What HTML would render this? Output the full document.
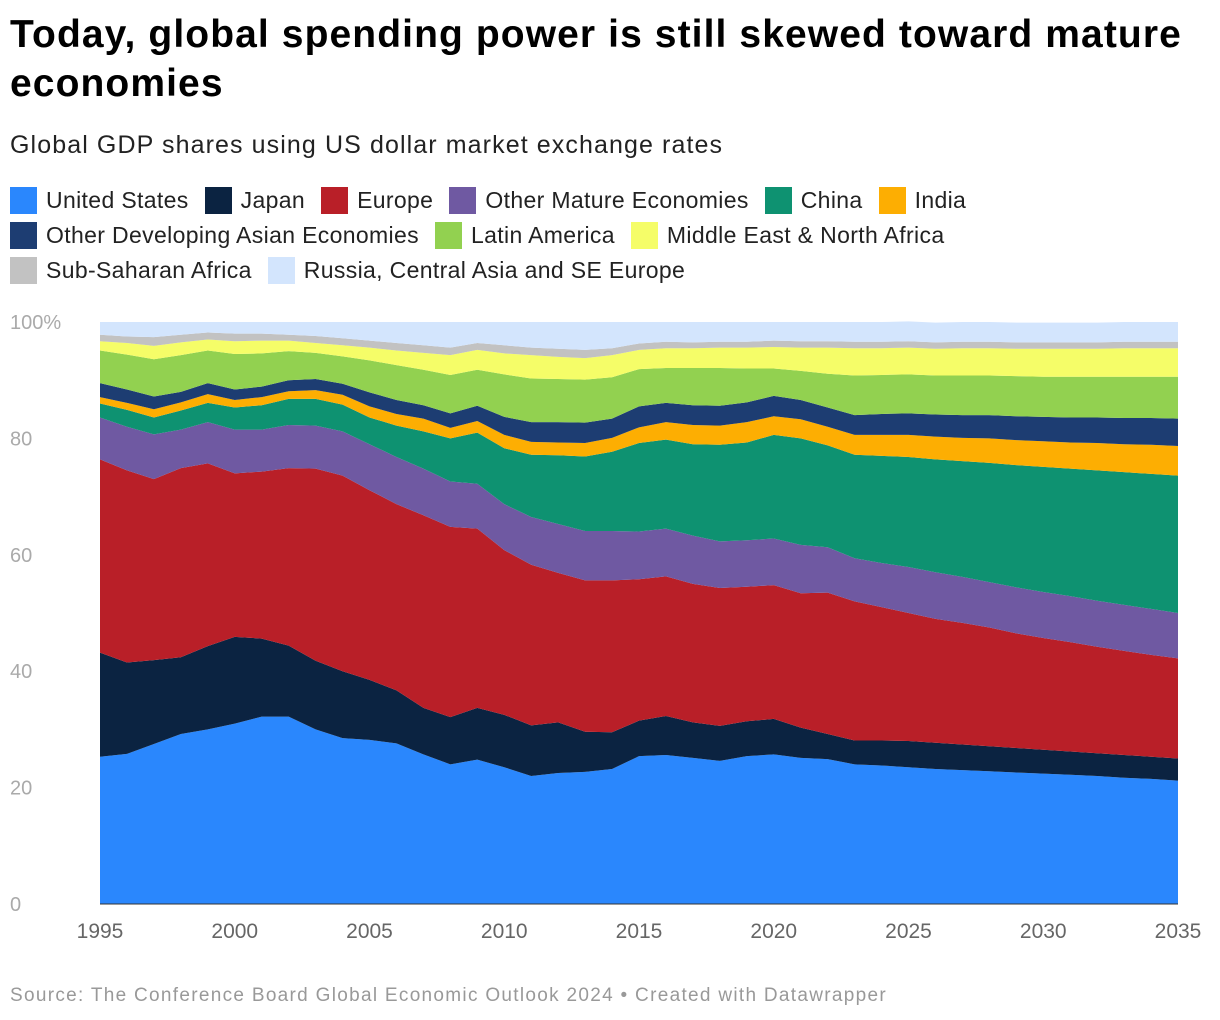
<!DOCTYPE html>
<html><head><meta charset="utf-8">
<style>
body{margin:0;background:#fff;font-family:"Liberation Sans",Arial,sans-serif;width:1220px;height:1020px;overflow:hidden;position:relative}
h1{position:absolute;left:10px;top:10px;margin:0;font-size:39px;line-height:49px;font-weight:bold;color:#000;width:1205px;letter-spacing:1.1px}
.sub{position:absolute;left:10px;top:131px;font-size:25px;color:#222;letter-spacing:1.1px}
.legend{position:absolute;left:10px;top:183px;width:1200px}
.row{height:35px;display:flex;align-items:center}
.li{display:flex;align-items:center;margin-right:16px;font-size:23px;color:#222;letter-spacing:0.35px}
.sw{width:27px;height:27px;margin-right:9px}
.src{position:absolute;left:10px;top:985px;font-size:19px;color:#999;letter-spacing:1.3px}
</style></head><body>
<h1>Today, global spending power is still skewed toward mature economies</h1>
<div class="sub">Global GDP shares using US dollar market exchange rates</div>
<div class="legend" id="legend"></div>
<svg id="chart" width="1220" height="1020" style="position:absolute;left:0;top:0"></svg>
<div class="src">Source: The Conference Board Global Economic Outlook 2024 • Created with Datawrapper</div>
<script>
const years=[];for(let y=1995;y<=2035;y++)years.push(y);
const seriesNames=["United States","Japan","Europe","Other Mature Economies","China","India","Other Developing Asian Economies","Latin America","Middle East & North Africa","Sub-Saharan Africa","Russia, Central Asia and SE Europe"];
const seriesColors=["#2a87fd","#0b2341","#b91f28","#6f59a2","#0e9271","#fdae02","#1d3d72","#92d150","#f5fd68","#c2c2c2","#d3e5fd"];
const usShare=[25.3,25.8,27.5,29.2,30.0,31.0,32.2,32.2,30.0,28.5,28.2,27.6,25.7,24.0,24.8,23.5,22.0,22.5,22.7,23.2,25.4,25.6,25.1,24.6,25.4,25.7,25.1,24.9,24.0,23.8,23.5,23.2,23.0,22.8,22.6,22.4,22.2,22.0,21.7,21.5,21.2];
const japanShare=[17.9,15.7,14.4,13.2,14.3,14.9,13.4,12.2,11.8,11.5,10.3,9.1,8.0,8.1,8.9,9.0,8.7,8.7,6.9,6.3,6.1,6.7,6.1,6.0,6.0,6.1,5.2,4.3,4.1,4.3,4.5,4.5,4.4,4.3,4.2,4.1,4.0,3.9,3.9,3.8,3.8];
const europeShare=[33.2,33.0,31.1,32.5,31.4,28.1,28.7,30.5,33.0,33.6,32.6,32.0,33.1,32.7,30.8,28.3,27.6,25.7,26.0,26.1,24.3,24.0,23.8,23.7,23.1,23.0,23.1,24.3,23.9,22.9,22.0,21.3,20.9,20.4,19.7,19.2,18.8,18.3,17.9,17.5,17.2];
const otherMatureShare=[7.2,7.5,7.7,6.6,7.1,7.5,7.2,7.4,7.4,7.6,7.9,8.1,8.0,7.8,7.7,7.9,8.2,8.4,8.5,8.5,8.2,8.2,8.3,8.0,8.0,8.0,8.3,7.8,7.4,7.6,7.9,8.0,7.9,7.8,7.9,7.9,7.9,7.9,7.9,7.9,7.8];
const chinaShare=[2.4,2.9,2.9,3.3,3.3,3.8,4.2,4.5,4.6,4.6,4.6,5.4,6.4,7.4,8.8,9.6,10.7,11.8,12.8,13.6,15.2,15.3,15.7,16.6,16.8,17.8,18.3,17.5,17.8,18.4,18.9,19.4,19.9,20.5,21.0,21.5,21.9,22.4,22.8,23.2,23.6];
const indiaShare=[1.1,1.2,1.4,1.4,1.5,1.3,1.4,1.3,1.5,1.7,1.9,2.0,2.2,1.8,2.0,2.3,2.2,2.2,2.3,2.4,2.7,3.0,3.3,3.3,3.5,3.2,3.3,3.2,3.4,3.6,3.8,3.9,4.0,4.2,4.3,4.4,4.5,4.7,4.8,5.0,5.1];
const otherAsiaShare=[2.4,2.3,2.2,1.8,1.9,1.8,1.8,1.9,1.9,1.9,2.4,2.4,2.3,2.5,2.6,3.1,3.4,3.5,3.5,3.3,3.6,3.3,3.4,3.4,3.4,3.5,3.3,3.3,3.4,3.6,3.7,3.8,3.9,4.0,4.1,4.2,4.3,4.4,4.5,4.6,4.7];
const latamShare=[5.6,6.0,6.4,6.3,5.6,6.1,5.7,5.0,4.5,4.7,5.5,6.0,6.1,6.6,6.2,7.3,7.5,7.4,7.4,7.1,6.4,6.0,6.4,6.5,5.8,4.7,5.0,5.8,6.8,6.7,6.7,6.7,6.8,6.8,6.9,6.9,7.0,7.0,7.1,7.1,7.2];
const menaShare=[1.6,2.0,2.3,2.2,1.9,2.2,2.2,1.8,1.7,1.9,2.2,2.5,2.9,3.4,3.4,3.6,4.0,3.8,3.7,3.8,3.3,3.4,3.4,3.5,3.6,3.7,4.0,4.5,4.7,4.6,4.6,4.6,4.7,4.7,4.7,4.8,4.8,4.8,4.9,4.9,4.9];
const ssaShare=[1.1,1.1,1.5,1.3,1.2,1.3,1.2,1.0,1.2,1.2,1.2,1.3,1.3,1.3,1.2,1.4,1.3,1.4,1.4,1.2,1.1,1.1,1.0,1.0,1.0,1.1,1.1,1.1,1.1,1.1,1.1,1.1,1.1,1.1,1.1,1.1,1.1,1.1,1.1,1.1,1.1];
const russiaShare=[2.2,2.5,2.6,2.2,1.8,2.0,2.0,2.2,2.4,2.8,3.2,3.6,4.0,4.4,3.6,4.0,4.4,4.6,4.8,4.5,3.7,3.4,3.5,3.4,3.4,3.2,3.3,3.3,3.4,3.4,3.4,3.4,3.4,3.4,3.4,3.4,3.4,3.4,3.4,3.4,3.4];
const yTicks=[0,20,40,60,80,100];
const xTicks=[1995,2000,2005,2010,2015,2020,2025,2030,2035];

const allSeries=[usShare,japanShare,europeShare,otherMatureShare,chinaShare,indiaShare,otherAsiaShare,latamShare,menaShare,ssaShare,russiaShare];
const X0=100,X1=1178,Y0=904,Y1=322;
const xs=y=>X0+(y-1995)/(2035-1995)*(X1-X0);
const ys=v=>Y0-v/100*(Y0-Y1);
const NS="http://www.w3.org/2000/svg";
const svg=document.getElementById('chart');
const slugs=["united-states","japan","europe","other-mature","china","india","other-developing-asia","latin-america","mena","sub-saharan-africa","russia-central-asia"];
let base=years.map(()=>0);
allSeries.forEach((s,i)=>{
  const top=base.map((b,j)=>b+s[j]);
  let d="M"+years.map((y,j)=>xs(y)+","+ys(top[j])).join("L");
  for(let j=years.length-1;j>=0;j--)d+="L"+xs(years[j])+","+ys(base[j]);
  d+="Z";
  const p=document.createElementNS(NS,'path');
  p.setAttribute('d',d);p.setAttribute('fill',seriesColors[i]);
  
  
  svg.appendChild(p);
  base=top;
});
yTicks.forEach(t=>{
  const tx=document.createElementNS(NS,'text');
  tx.setAttribute('x',10);tx.setAttribute('y',ys(t)+7);
  tx.setAttribute('font-size','20');tx.setAttribute('fill','#aaa');
  tx.setAttribute('font-family','Liberation Sans, sans-serif');
  tx.textContent=t===100?'100%':t;
  
  
  svg.appendChild(tx);
});
const bl=document.createElementNS(NS,'line');
bl.setAttribute('x1',X0);bl.setAttribute('x2',X1);bl.setAttribute('y1',Y0);bl.setAttribute('y2',Y0);
bl.setAttribute('stroke','#333');bl.setAttribute('stroke-width','1');


svg.appendChild(bl);
xTicks.forEach(t=>{
  const tx=document.createElementNS(NS,'text');
  tx.setAttribute('x',xs(t));tx.setAttribute('y',938);
  tx.setAttribute('font-size','21');tx.setAttribute('fill','#666');
  tx.setAttribute('text-anchor','middle');
  tx.setAttribute('font-family','Liberation Sans, sans-serif');
  tx.textContent=t;
  
  
  svg.appendChild(tx);
});
const rows=[[0,1,2,3,4,5],[6,7,8],[9,10]];
const leg=document.getElementById('legend');
rows.forEach(r=>{
  const row=document.createElement('div');row.className='row';
  r.forEach(i=>{
    const it=document.createElement('div');it.className='li';
    
    
    const sw=document.createElement('span');sw.className='sw';sw.style.background=seriesColors[i];
    
    
    it.appendChild(sw);it.appendChild(document.createTextNode(seriesNames[i]));
    row.appendChild(it);
  });
  leg.appendChild(row);
});
</script>
</body></html>
